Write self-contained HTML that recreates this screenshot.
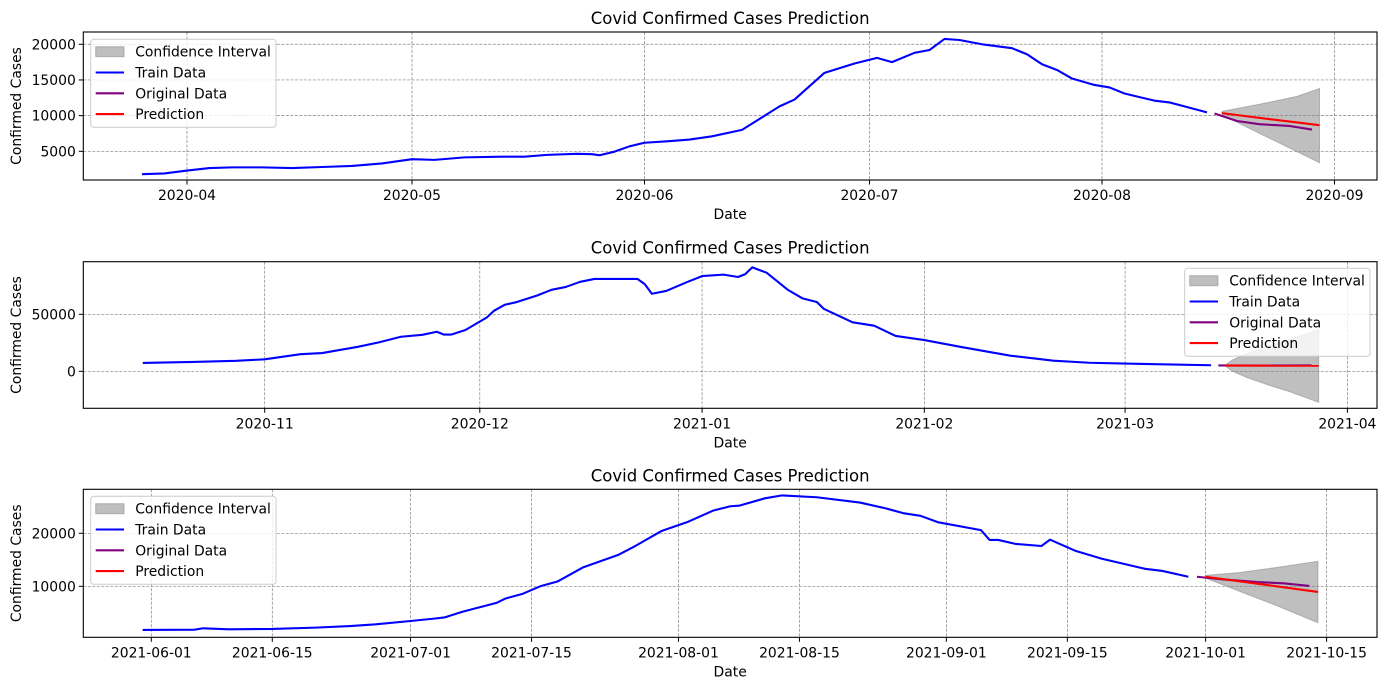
<!DOCTYPE html>
<html><head><meta charset="utf-8">
<style>
html,body{margin:0;padding:0;background:#fff;}
svg{display:block;font-family:"DejaVu Sans","Liberation Sans",sans-serif;}
</style></head>
<body>
<svg id="fig" width="1386" height="690" viewBox="0 0 1386 690" xmlns="http://www.w3.org/2000/svg"></svg>
<script>
// ---------- Panel 1 data (day offsets from start date) ----------
const start1 = '2020-04-01';
const trainDays1 = [-6,-3,0,3,6,10,14,18,22,26,30,33,37,42,45,48,52,54,55,57,59,61,64,67,70,74,79,81,85,89,92,94,97,99,101,103,106,110,112,114,116,118,121,123,125,129,131,133,136];
const trainVals1 = [1800,1900,2300,2650,2750,2750,2650,2800,2950,3300,3900,3800,4150,4250,4250,4500,4650,4600,4450,4950,5700,6200,6400,6650,7100,8000,11300,12250,16000,17300,18100,17500,18800,19200,20750,20600,20000,19450,18600,17200,16400,15200,14300,13950,13100,12100,11850,11300,10450];
const origDays1 = [137,140,143,147,150];
const origVals1 = [10300,9250,8800,8550,8050];
const predDays1 = [138,141,144,148,151];
const predVals1 = [10350,9950,9550,9050,8660];
const ciDays1 = [138,141,144,148,151];
const ciUpper1 = [10600,11200,11800,12700,13800];
const ciLower1 = [10100,8550,7000,4950,3400];
const yTicks1 = [5000,10000,15000,20000];
const xTickDays1 = [0,30,61,91,122,153];
const xTickLabels1 = ['2020-04','2020-05','2020-06','2020-07','2020-08','2020-09'];

// ---------- Panel 2 data ----------
const start2 = '2020-11-01';
const trainDays2 = [-17,-10,-4,0,5,8,13,16,19,22,24,25,26,28,31,32,33.5,35,38,40,42,44,46,50,52,53,54,56,59,61,64,66,67,68,70,73,75,77,78,82,85,88,92,97,104,110,115,120,126,132];
const trainVals2 = [7300,8200,9200,10500,15000,16000,21500,25500,30300,32000,34700,32200,32200,36200,47300,53200,58400,60500,66500,71500,74000,78500,81000,81000,81000,76500,68000,70500,78500,83500,84800,82700,85100,91200,86500,71300,64000,60800,54700,43000,40000,31000,27400,21500,13700,9300,7500,6800,6000,5300];
const origDays2 = [133,140,146];
const origVals2 = [5100,5000,5100];
const predDays2 = [134,147];
const predVals2 = [5000,4950];
const ciDays2 = [134,135,137,140,143,147];
const ciUpper2 = [5600,10000,15500,22000,28000,36800];
const ciLower2 = [4400,0,-5500,-12000,-18000,-27200];
const yTicks2 = [0,50000];
const xTickDays2 = [0,30,61,92,120,151];
const xTickLabels2 = ['2020-11','2020-12','2021-01','2021-02','2021-03','2021-04'];

// ---------- Panel 3 data ----------
const start3 = '2021-06-01';
const trainDays3 = [-1,5,6,9,14,19,23,26,30,33,34,36,40,41,43,45,47,50,54,56,59,62,65,67,68,71,73,77,82,85,87,89,91,96,97,98,100,103,104,107,110,115,117,120];
const trainVals3 = [1760,1820,2080,1890,1950,2200,2500,2830,3450,3950,4150,5200,6900,7700,8600,10000,10900,13600,15900,17600,20400,22100,24270,25100,25200,26600,27150,26800,25800,24700,23800,23300,22100,20600,18750,18750,18000,17600,18800,16650,15200,13300,12900,11800];
const origDays3 = [121,124,128,131,134];
const origVals3 = [11800,11300,10800,10560,10060];
const predDays3 = [122,135];
const predVals3 = [11800,8930];
const ciDays3 = [122,126,130,135];
const ciUpper3 = [12050,12600,13500,14720];
const ciLower3 = [11550,9000,6500,3130];
const yTicks3 = [10000,20000];
const xTickDays3 = [0,14,30,44,61,75,92,106,122,136];
const xTickLabels3 = ['2021-06-01','2021-06-15','2021-07-01','2021-07-15','2021-08-01','2021-08-15','2021-09-01','2021-09-15','2021-10-01','2021-10-15'];

const NS='http://www.w3.org/2000/svg';
const svg=document.getElementById('fig');
function mk(tag,attrs,parent){const e=document.createElementNS(NS,tag);for(const k in attrs)e.setAttribute(k,attrs[k]);(parent||svg).appendChild(e);return e;}

const AX_L=83.3, AX_R=1377;
const panels=[
 {id:1,top:32,bot:180,x0px:187,pxPerDay:7.5,yMin:980,yMax:21720,train:[trainDays1,trainVals1],orig:[origDays1,origVals1],pred:[predDays1,predVals1],ci:[ciDays1,ciUpper1,ciLower1],yt:yTicks1,xt:xTickDays1,xl:xTickLabels1,legend:{x:90.7,y:39.3}},
 {id:2,top:261.7,bot:408.3,x0px:264.7,pxPerDay:7.17,yMin:-32460,yMax:96140,train:[trainDays2,trainVals2],orig:[origDays2,origVals2],pred:[predDays2,predVals2],ci:[ciDays2,ciUpper2,ciLower2],yt:yTicks2,xt:xTickDays2,xl:xTickLabels2,legend:{x:1184.7,y:268.3}},
 {id:3,top:489.3,bot:637.3,x0px:151.3,pxPerDay:8.642,yMin:377,yMax:28300,train:[trainDays3,trainVals3],orig:[origDays3,origVals3],pred:[predDays3,predVals3],ci:[ciDays3,ciUpper3,ciLower3],yt:yTicks3,xt:xTickDays3,xl:xTickLabels3,legend:{x:90.7,y:496.3}}
];

panels.forEach(p=>{
  const g=mk('g',{});
  
  
  const xs=d=>p.x0px+d*p.pxPerDay;
  const ys=v=>p.bot-(v-p.yMin)/(p.yMax-p.yMin)*(p.bot-p.top);
  // title
  const t=mk('text',{x:(AX_L+AX_R)/2,y:p.top-8,'text-anchor':'middle','font-size':'16.5px',fill:'#000'},g);
  t.textContent='Covid Confirmed Cases Prediction';
  
  
  // grid
  p.yt.forEach(v=>{
    const l=mk('line',{x1:AX_L,x2:AX_R,y1:ys(v),y2:ys(v),stroke:'#808080','stroke-width':0.7,'stroke-dasharray':'3,1.5'},g);
    
    
  });
  p.xt.forEach(d=>{
    const l=mk('line',{x1:xs(d),x2:xs(d),y1:p.top,y2:p.bot,stroke:'#808080','stroke-width':0.7,'stroke-dasharray':'3,1.5'},g);
    
    
  });
  // clip
  const cp=mk('clipPath',{id:'clip'+p.id},g);
  mk('rect',{x:AX_L,y:p.top,width:AX_R-AX_L,height:p.bot-p.top},cp);
  const pg=mk('g',{'clip-path':'url(#clip'+p.id+')'},g);
  // CI
  const [cd,cu,cl]=p.ci;
  let pts=cd.map((d,i)=>xs(d)+','+ys(cu[i]));
  for(let i=cd.length-1;i>=0;i--)pts.push(xs(cd[i])+','+ys(cl[i]));
  const ci=mk('polygon',{points:pts.join(' '),fill:'#808080','fill-opacity':0.5,stroke:'#808080','stroke-opacity':0.5,'stroke-width':1},pg);
  
  
  const line=(arr,col,name)=>{
    const pl=mk('polyline',{points:arr[0].map((d,i)=>xs(d)+','+ys(arr[1][i])).join(' '),fill:'none',stroke:col,'stroke-width':2.1,'stroke-linejoin':'round','stroke-linecap':'butt'},pg);
    
    
  };
  line(p.train,'#0000ff','train-data-line');
  line(p.orig,'#800080','original-data-line');
  line(p.pred,'#ff0000','prediction-line');
  // frame
  const fr=mk('rect',{x:AX_L,y:p.top,width:AX_R-AX_L,height:p.bot-p.top,fill:'none',stroke:'#000','stroke-width':1.1},g);
  
  
  // y ticks
  p.yt.forEach(v=>{
    mk('line',{x1:AX_L-4.5,x2:AX_L,y1:ys(v),y2:ys(v),stroke:'#000','stroke-width':1},g);
    const tl=mk('text',{x:AX_L-7.5,y:ys(v)+5,'text-anchor':'end','font-size':'13.9px'},g);
    tl.textContent=String(v);
    
    
  });
  // x ticks
  p.xt.forEach((d,i)=>{
    mk('line',{x1:xs(d),x2:xs(d),y1:p.bot,y2:p.bot+4.5,stroke:'#000','stroke-width':1},g);
    const tl=mk('text',{x:xs(d),y:p.bot+20,'text-anchor':'middle','font-size':'13.9px'},g);
    tl.textContent=p.xl[i];
    
    
  });
  // axis labels
  const xl=mk('text',{x:(AX_L+AX_R)/2,y:p.bot+39,'text-anchor':'middle','font-size':'13.9px'},g);
  xl.textContent='Date';
  
  
  const cy=(p.top+p.bot)/2;
  const yl=mk('text',{x:0,y:0,'text-anchor':'middle','font-size':'13.9px',transform:'translate(21,'+cy+') rotate(-90)'},g);
  yl.textContent='Confirmed Cases';
  
  
  // legend
  const L=p.legend;
  const lg=mk('g',{},g);
  
  
  mk('rect',{x:L.x,y:L.y,width:185.3,height:88,rx:3,fill:'#fff','fill-opacity':0.8,stroke:'#cccccc','stroke-width':1},lg);
  const entries=[['Confidence Interval','ci'],['Train Data','#0000ff'],['Original Data','#800080'],['Prediction','#ff0000']];
  entries.forEach((e,i)=>{
    const ry=L.y+12.4+i*20.8;
    const eg=mk('g',{},lg);
    
    
    if(e[1]==='ci'){
      mk('rect',{x:L.x+5,y:ry-5,width:28.3,height:10,fill:'#808080','fill-opacity':0.5,stroke:'#808080','stroke-opacity':0.5},eg);
    } else {
      mk('line',{x1:L.x+5,x2:L.x+33.3,y1:ry,y2:ry,stroke:e[1],'stroke-width':2.1},eg);
    }
    const tx=mk('text',{x:L.x+44.5,y:ry+5,'font-size':'13.9px'},eg);
    tx.textContent=e[0];
  });
});
</script>
</body></html>
